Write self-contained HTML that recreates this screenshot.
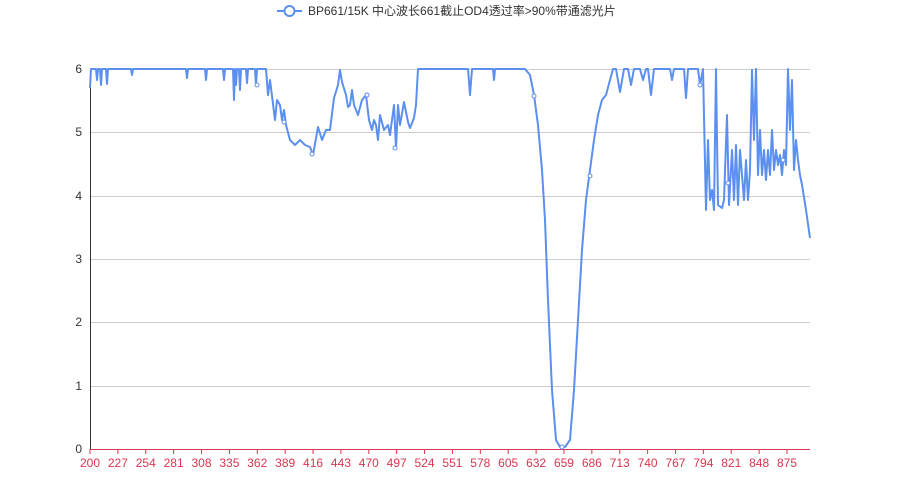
<!DOCTYPE html>
<html><head><meta charset="utf-8"><style>
body{margin:0;background:#fff;}
svg{display:block;font-family:"Liberation Sans","Noto Sans CJK SC",sans-serif;}
</style></head><body>
<svg width="900" height="500" viewBox="0 0 900 500">
<g stroke="#ccc" stroke-width="1">
<line x1="90" y1="69.5" x2="810" y2="69.5"/>
<line x1="90" y1="132.5" x2="810" y2="132.5"/>
<line x1="90" y1="196.5" x2="810" y2="196.5"/>
<line x1="90" y1="259.5" x2="810" y2="259.5"/>
<line x1="90" y1="322.5" x2="810" y2="322.5"/>
<line x1="90" y1="386.5" x2="810" y2="386.5"/>
</g>
<line x1="90.5" y1="69" x2="90.5" y2="449" stroke="#333"/>
<g fill="#333" font-size="12" text-anchor="end">
<text x="82" y="73">6</text><text x="82" y="136">5</text><text x="82" y="200">4</text>
<text x="82" y="263">3</text><text x="82" y="326">2</text><text x="82" y="390">1</text><text x="82" y="453">0</text>
</g>
<line x1="90" y1="449.5" x2="810" y2="449.5" stroke="#d9364f"/>
<g id="ticks" stroke="#d9364f"></g>
<g id="xl" fill="#d9364f" font-size="12" text-anchor="middle"></g>
<polyline fill="none" stroke="#5b8ff0" stroke-width="2" stroke-linejoin="round" points="
90,88 91,69 96,69 97,80 98,69 100,69 101,85 102,69 106,69 107,84 108,69 131,69 132,75 133,69 186,69 187,78 188,69 205,69 206,80 207,69 223,69 224,80 225,69 233,69 234,100 235,69 236,85 237,69 239,69 240,90 241,69 246,69 247,83 248,69 255,69 256,85 257,69 266,69
268,95 270,80 275,120 277,100 280,105 282,120 284,110 286,125 290,140 295,145 300,140 305,145 310,147 313,155 318,127 322,140 326,130 330,130 334,98 338,85 340,70 342,82 346,95 348,107 350,105 352,90 354,105 358,115 362,100 366,95 369,120 372,130 374,120 376,125 378,140 380,115 384,130 388,125 390,135 394,105 396,148 398,105 400,125 404,102 408,122 410,128 414,118 416,105 418,69
468,69 470,95 472,69 493,69 494,80 495,69 525,69 530,75 534,95 538,125 542,170 545,220 548,300 552,390 556,440 560,447 565,447 570,440 574,390 578,320 582,250 586,200 590,170 594,140 598,115 602,100 606,95 610,80 613,69 616,69 620,92 624,69 628,69 631,85 634,69 640,69 643,80 646,69 648,69 651,95 654,69 660,69 670,69 672,80 674,69 684,69 686,98 688,69 698,69 700,85 703,69 706,210 708,140 710,200 712,190 714,210 716,69 718,205 722,208 724,200 727,115 729,205 732,150 734,200 736,145 738,205 740,150 742,175 744,200 746,160 748,200 750,170 752,70 754,140 756,69 758,175 760,130 762,175 764,150 766,180 768,150 770,175 772,130 774,170 776,150 778,165 780,155 782,175 784,150 786,165 788,69 790,130 792,80 794,170 796,140 798,160 800,175 802,185 806,210 810,238"/>
<g fill="#fff" stroke="#5b8ff0" stroke-width="1">
<circle cx="257" cy="85" r="2"/><circle cx="284" cy="122" r="2"/><circle cx="312" cy="154" r="2"/><circle cx="367" cy="95" r="2"/><circle cx="395" cy="148" r="2"/><circle cx="534" cy="96" r="2"/><circle cx="562" cy="447" r="2"/><circle cx="590" cy="176" r="2"/><circle cx="700" cy="85" r="2"/><circle cx="728" cy="183" r="2"/><circle cx="783" cy="160" r="2"/>
</g>
<line x1="277" y1="11" x2="302" y2="11" stroke="#5b8ff0" stroke-width="2"/>
<circle cx="289.5" cy="11" r="5" fill="#fff" stroke="#5b8ff0" stroke-width="2"/>
<text x="308" y="15" font-size="12" fill="#333">BP661/15K 中心波长661截止OD4透过率&gt;90%带通滤光片</text>
</svg>
<script>
var t=document.getElementById('ticks'),l=document.getElementById('xl'),ns='http://www.w3.org/2000/svg';
for(var i=0;i<26;i++){var x=90+i*27.88;
var a=document.createElementNS(ns,'line');a.setAttribute('x1',x);a.setAttribute('x2',x);a.setAttribute('y1',449);a.setAttribute('y2',454);t.appendChild(a);
var s=document.createElementNS(ns,'text');s.setAttribute('x',x);s.setAttribute('y',467);s.textContent=200+27*i;l.appendChild(s);}
</script>
</body></html>
